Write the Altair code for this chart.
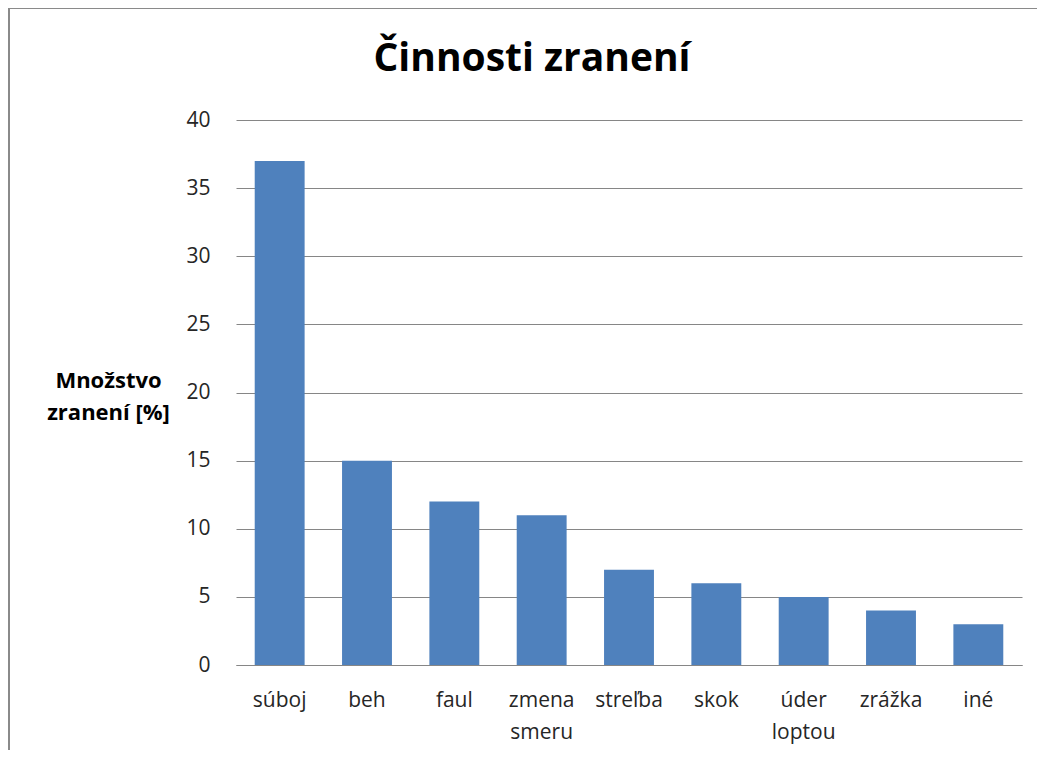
import altair as alt
import pandas as pd

categories = ["súboj", "beh", "faul", "zmena smeru", "streľba", "skok", "úder loptou", "zrážka", "iné"]
values = [37, 15, 12, 11, 7, 6, 5, 4, 3]
y_ticks = [0, 5, 10, 15, 20, 25, 30, 35, 40]

df = pd.DataFrame({"cat": categories, "val": values})

FONT = "Open Sans"

bars = alt.Chart(df).mark_bar(color="#4F81BD").encode(
    x=alt.X(
        "cat:N",
        sort=categories,
        scale=alt.Scale(paddingInner=0.4286, paddingOuter=0.2143),
        axis=alt.Axis(
            title=None,
            labelAngle=0,
            labelExpr="split(datum.label, ' ')",
            labelFont=FONT,
            labelFontSize=21,
            labelColor="#262626",
            labelLineHeight=32,
            labelPadding=24,
            ticks=False,
            domainColor="#868686",
            domainWidth=1,
            grid=False,
        ),
    ),
    y=alt.Y(
        "val:Q",
        scale=alt.Scale(domain=[0, 40]),
        axis=alt.Axis(
            values=y_ticks,
            title=["Množstvo", "zranení [%]"],
            titleAngle=0,
            titleX=-128,
            titleY=260,
            titleAlign="center",
            titleBaseline="middle",
            titleFont=FONT,
            titleFontSize=22,
            titleFontWeight="bold",
            titleColor="#000000",
            titleLineHeight=32,
            labelFont=FONT,
            labelFontSize=21,
            labelColor="#262626",
            labelPadding=26,
            ticks=False,
            domain=False,
            grid=True,
            gridColor="#868686",
            gridWidth=1,
        ),
    ),
)

border = alt.Chart(alt.Data(values=[{"a": 1}])).mark_rect(
    filled=False, stroke="#8a8a8a", strokeWidth=2
).encode(
    x=alt.value(-227), x2=alt.value(830),
    y=alt.value(-112), y2=alt.value(680),
)

chart = alt.layer(border, bars).properties(
    width=786,
    height=545,
    padding={"left": 228, "top": 112, "right": 15, "bottom": 85},
    autosize=alt.AutoSizeParams(type="none"),
    title=alt.TitleParams(
        "Činnosti zranení",
        font=FONT,
        fontSize=39,
        fontWeight="bold",
        color="#000000",
        anchor="middle",
        baseline="alphabetic",
        dx=-97,
        offset=-103,
    ),
).configure_view(stroke=None)

chart.save("out.html", embed_options={"renderer": "svg", "actions": False})
